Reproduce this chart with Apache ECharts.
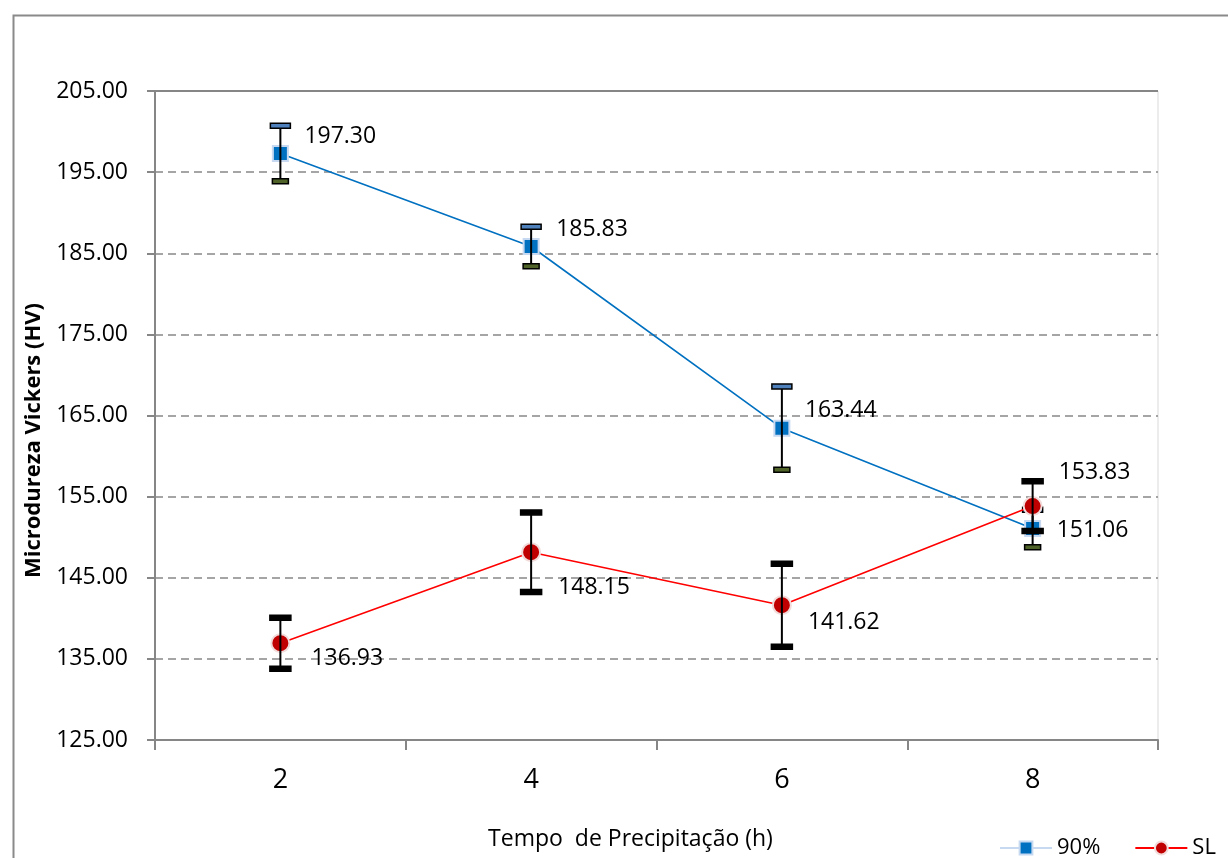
<!DOCTYPE html>
<html>
<head>
<meta charset="utf-8">
<script src="https://cdn.jsdelivr.net/npm/echarts@6/dist/echarts.min.js"></script>
<style>
html,body{margin:0;padding:0;background:#fff;}
#chart{width:1228px;height:858px;}
</style>
</head>
<body>
<div id="chart"></div>
<script>
const categories = ['2', '4', '6', '8'];
const values90 = [197.30, 185.83, 163.44, 151.06];
const err90 = [3.41, 2.43, 5.13, 2.31];
const valuesSL = [136.93, 148.15, 141.62, 153.83];
const errSL = [3.14, 4.90, 5.12, 3.08];
const yMin = 125, yMax = 205, yStep = 10;

// label placement (layout only)
const labelOff90 = [[24, -17], [25, -17], [23, -18], [24, 2]];
const labelOffSL = [[31, 15], [27, 35], [26, 17], [26, -34]];

const FONT = 'Open Sans';
const chart = echarts.init(document.getElementById('chart'));

function errBarRenderer(capTop, capBot, capW, capWb) {
  return function (params, api) {
    const x = api.value(0);
    const lo = api.value(1), hi = api.value(2);
    const pt = api.coord([x, hi]);
    const pb = api.coord([x, lo]);
    const h = 5;
    return {
      type: 'group',
      children: [
        { type: 'line', shape: { x1: pt[0], y1: pt[1], x2: pb[0], y2: pb[1] },
          style: { stroke: '#000', lineWidth: 2 } },
        { type: 'rect', shape: { x: pt[0] - capW / 2, y: pt[1] - h / 2, width: capW, height: h },
          style: { fill: capTop, stroke: '#000', lineWidth: 1.5 } },
        { type: 'rect', shape: { x: pb[0] - capWb / 2, y: pb[1] - h / 2, width: capWb, height: h },
          style: { fill: capBot, stroke: '#000', lineWidth: 1.5 } }
      ]
    };
  };
}

const option = {
  animation: false,
  backgroundColor: '#fff',
  textStyle: { fontFamily: FONT, color: '#000' },
  graphic: [{
    type: 'rect', left: 11, top: 13, silent: true,
    shape: { width: 1240, height: 900 },
    style: { fill: 'none', stroke: '#8a8a8a', lineWidth: 2 }
  }],
  grid: { left: 155, right: 70, top: 91, bottom: 118, show: true, borderColor: '#d9d9d9', borderWidth: 1, backgroundColor: 'transparent' },
  legend: {
    left: 994, top: 832,
    itemWidth: 52, itemHeight: 16, itemGap: 34,
    textStyle: { fontFamily: FONT, fontSize: 22, color: '#000' },
    data: [
      { name: '90%', lineStyle: { color: '#c6d9f1' } },
      { name: 'SL' }
    ]
  },
  xAxis: {
    type: 'category',
    data: categories,
    boundaryGap: true,
    name: 'Tempo  de Precipitação (h)',
    nameLocation: 'middle',
    nameGap: 88,
    nameTextStyle: { fontFamily: FONT, fontSize: 23, color: '#000', padding: [0, 52, 0, 0] },
    axisLine: { lineStyle: { color: '#868686', width: 2 } },
    axisTick: { show: true, length: 10, lineStyle: { color: '#868686', width: 2 } },
    axisLabel: { fontFamily: FONT, fontSize: 27, color: '#000', margin: 27 },
    splitLine: { show: false }
  },
  yAxis: {
    type: 'value',
    min: yMin, max: yMax, interval: yStep,
    name: 'Microdureza Vickers (HV)',
    nameLocation: 'middle',
    nameGap: 110,
    nameTextStyle: { fontFamily: FONT, fontSize: 22, fontWeight: 'bold', color: '#000', padding: [0, 50, 0, 0] },
    axisLine: { show: true, lineStyle: { color: '#868686', width: 2 } },
    axisTick: { show: true, length: 8, lineStyle: { color: '#868686', width: 2 } },
    axisLabel: { fontFamily: FONT, fontSize: 23, color: '#000', margin: 27, formatter: v => v.toFixed(2) },
    splitLine: { show: true, lineStyle: { color: '#888', width: 1.5, type: [8, 5] } }
  },
  series: [
    {
      name: '90%',
      type: 'line',
      z: 3,
      data: values90.map((v, i) => ({ value: v, label: { offset: labelOff90[i] } })),
      symbol: 'rect',
      symbolSize: 15,
      itemStyle: { color: '#0070c0', borderColor: '#c6d9f1', borderWidth: 2 },
      lineStyle: { color: '#0070c0', width: 1.6 },
      label: {
        show: true, position: 'inside', align: 'left', verticalAlign: 'middle',
        fontFamily: FONT, fontSize: 23, color: '#000',
        formatter: p => p.value.toFixed(2)
      },
      markLine: {
        silent: true, symbol: 'none', label: { show: false },
        lineStyle: { color: '#868686', width: 2, type: 'solid' },
        data: [{ yAxis: yMax }]
      }
    },
    {
      name: 'err90',
      type: 'custom',
      z: 4,
      renderItem: errBarRenderer('#4f81bd', '#4f6228', 20, 16),
      data: values90.map((v, i) => [i, v - err90[i], v + err90[i]]),
      silent: true
    },
    {
      name: 'SL',
      type: 'line',
      z: 5,
      data: valuesSL.map((v, i) => ({ value: v, label: { offset: labelOffSL[i] } })),
      symbol: 'circle',
      symbolSize: 18,
      itemStyle: { color: '#c00000', borderColor: '#f2dcdb', borderWidth: 2 },
      lineStyle: { color: '#ff0000', width: 1.6 },
      label: {
        show: true, position: 'inside', align: 'left', verticalAlign: 'middle',
        fontFamily: FONT, fontSize: 23, color: '#000',
        formatter: p => p.value.toFixed(2)
      }
    },
    {
      name: 'errSL',
      type: 'custom',
      z: 6,
      renderItem: errBarRenderer('#000', '#000', 21, 21),
      data: valuesSL.map((v, i) => [i, v - errSL[i], v + errSL[i]]),
      silent: true
    }
  ]
};
chart.setOption(option);
</script>
</body>
</html>
